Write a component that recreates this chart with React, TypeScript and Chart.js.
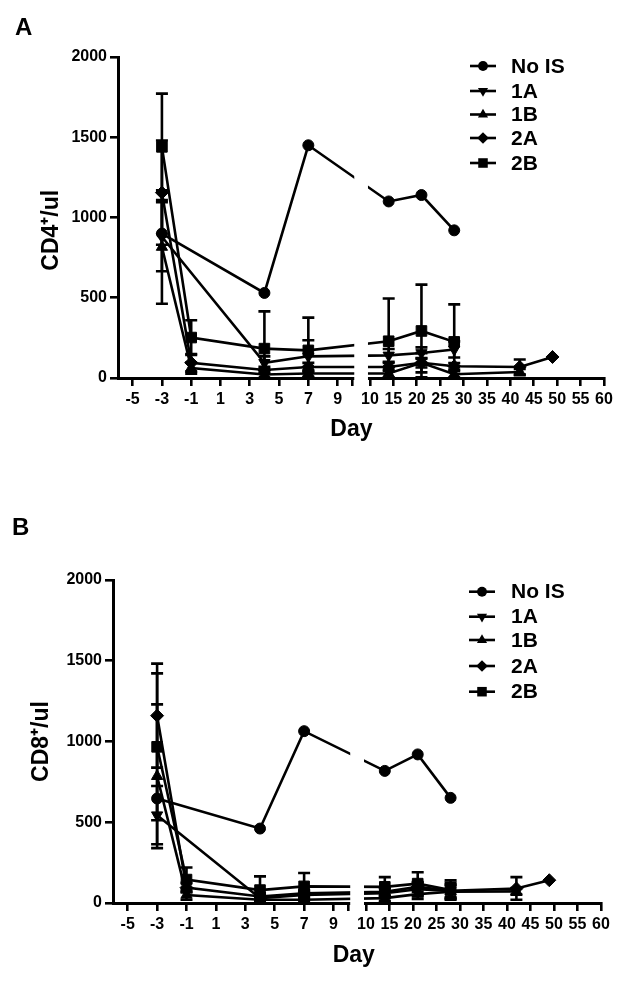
import React, { useEffect, useRef } from "react";
import { Chart, registerables } from "chart.js";

Chart.register(...registerables);

const FONT = "'Liberation Sans', Arial, Helvetica, sans-serif";

// ---------- shared axis data ----------
const DAYS = [-3, -1, 4, 7, 14, 21, 28, 42, 49];
const SERIES_NAMES = ["No IS", "1A", "1B", "2A", "2B"];
const LEFT_TICK_DAYS = [-5, -3, -1, 1, 3, 5, 7, 9];
const RIGHT_TICK_DAYS = [10, 15, 20, 25, 30, 35, 40, 45, 50, 55, 60];
const Y_MIN = 0;
const Y_MAX = 2000;
const Y_STEP = 500;

// ---------- panel A: CD4+/ul (mean) ----------
const CD4_NO_IS = [900, null, 530, 1450, 1100, 1140, 920, null, null];
const CD4_1A = [880, null, 95, 135, 141, 156, 178, null, null];
const CD4_1B = [816, 62, 22, 28, 28, 95, 23, 37, null];
const CD4_2A = [1155, 95, 50, 69, 69, 95, 73, 69, 131];
const CD4_2B = [1440, 252, 183, 172, 229, 293, 225, null, null];
// panel A error (SEM)
const CD4_NO_IS_ERR = [null, null, null, null, null, null, null, null, null];
const CD4_1A_ERR = [215, null, 40, 100, 40, 35, 50, null, null];
const CD4_1B_ERR = [353, 35, 20, 20, 25, 60, 20, 20, null];
const CD4_2A_ERR = [325, 55, 20, 25, 25, 30, 20, 46, null];
const CD4_2B_ERR = [332, 108, 232, 204, 266, 289, 234, null, null];

// ---------- panel B: CD8+/ul (mean) ----------
const CD8_NO_IS = [647, null, 461, 1064, 818, 920, 651, null, null];
const CD8_1A = [544, null, 30, 50, 60, 85, 75, null, null];
const CD8_1B = [785, 50, 20, 20, 30, 55, 70, 72, null];
const CD8_2A = [1160, 95, 40, 60, 70, 100, 75, 90, 141];
const CD8_2B = [967, 145, 80, 103, 100, 120, 80, null, null];
// panel B error (SEM)
const CD8_NO_IS_ERR = [null, null, null, null, null, null, null, null, null];
const CD8_1A_ERR = [180, null, 20, 25, 30, 40, 50, null, null];
const CD8_1B_ERR = [445, 30, 15, 15, 20, 30, 40, 20, null];
const CD8_2A_ERR = [322, 30, 20, 20, 25, 30, 40, 70, null];
const CD8_2B_ERR = [455, 75, 85, 83, 60, 70, 60, null, null];

// ---------- broken x axis mapping ----------
const X_LEFT_MIN = -6;
const BREAK_DAY = 10;
const BREAK_GAP = 1.21; // axis units between the two segments
const RIGHT_RATIO = 0.3197; // axis units per day on the right segment

const rightAxis = (d: number) => BREAK_DAY + BREAK_GAP + (d - BREAK_DAY) * RIGHT_RATIO;
const dayToAxis = (d: number) => (d <= BREAK_DAY ? d : rightAxis(d));
const X_MAX = rightAxis(60);

const X_TICK_VALUES = [...LEFT_TICK_DAYS, BREAK_DAY, ...RIGHT_TICK_DAYS.map(rightAxis)];
const X_TICK_LABELS = [...LEFT_TICK_DAYS.map(String), "", ...RIGHT_TICK_DAYS.map(String)];

const POINT_STYLES = ["circle", "triangle", "triangle", "rectRot", "rect"];
const POINT_ROTATIONS = [0, 180, 0, 0, 0];
const POINT_RADII = [5.5, 6.5, 6.5, 6.5, 7.5];

function drawMarker(ctx: CanvasRenderingContext2D, i: number, x: number, y: number, scale = 1) {
  const r = POINT_RADII[i] * scale;
  const style = POINT_STYLES[i];
  ctx.beginPath();
  if (style === "circle") {
    ctx.arc(x, y, r, 0, Math.PI * 2);
  } else if (style === "triangle") {
    const rot = (POINT_ROTATIONS[i] * Math.PI) / 180;
    let a = rot;
    for (let k = 0; k < 3; k++) {
      const px = x + Math.sin(a) * r;
      const py = y - Math.cos(a) * r;
      if (k === 0) ctx.moveTo(px, py);
      else ctx.lineTo(px, py);
      a += (2 * Math.PI) / 3;
    }
    ctx.closePath();
  } else if (style === "rectRot") {
    ctx.moveTo(x, y - r);
    ctx.lineTo(x + r, y);
    ctx.lineTo(x, y + r);
    ctx.lineTo(x - r, y);
    ctx.closePath();
  } else {
    const s = r * Math.SQRT1_2;
    ctx.rect(x - s, y - s, 2 * s, 2 * s);
  }
  ctx.fill();
}

type PanelCfg = {
  letter: string;
  letterX: number;
  letterY: number;
  yTitle: string;
  yTitlePad: number;
  xTitle: string;
  yWidth: number;
  xHeight: number;
  xTitlePadBottom: number;
  padding: { left: number; right: number; top: number; bottom: number };
  legendX: number;
  legendTextX: number;
  legendRows: number[];
  values: (number | null)[][];
  errors: (number | null)[][];
};

const PANEL_A: PanelCfg = {
  letter: "A",
  letterX: 15,
  letterY: 35,
  yTitle: "CD4\u207A/ul    ",
  yTitlePad: 38,
  xTitle: "Day   ",
  yWidth: 118,
  xHeight: 80,
  xTitlePadBottom: 15,
  padding: { left: 0, right: 25, top: 57, bottom: 35 },
  legendX: 470,
  legendTextX: 511,
  legendRows: [66, 91, 114.5, 138, 163],
  values: [CD4_NO_IS, CD4_1A, CD4_1B, CD4_2A, CD4_2B],
  errors: [CD4_NO_IS_ERR, CD4_1A_ERR, CD4_1B_ERR, CD4_2A_ERR, CD4_2B_ERR],
};

const PANEL_B: PanelCfg = {
  letter: "B",
  letterX: 12,
  letterY: 42,
  yTitle: "CD8\u207A/ul",
  yTitlePad: 28,
  xTitle: "Day ",
  yWidth: 113,
  xHeight: 70,
  xTitlePadBottom: 4,
  padding: { left: 0, right: 28, top: 87, bottom: 13 },
  legendX: 469,
  legendTextX: 511,
  legendRows: [98.7, 123.7, 147, 173, 198.7],
  values: [CD8_NO_IS, CD8_1A, CD8_1B, CD8_2A, CD8_2B],
  errors: [CD8_NO_IS_ERR, CD8_1A_ERR, CD8_1B_ERR, CD8_2A_ERR, CD8_2B_ERR],
};

function Panel({ cfg }: { cfg: PanelCfg }) {
  const ref = useRef<HTMLCanvasElement | null>(null);

  useEffect(() => {
    if (!ref.current) return;

    const datasets = SERIES_NAMES.map((name, i) => {
      const pts: { x: number; y: number }[] = [];
      const errs: number[] = [];
      DAYS.forEach((d, j) => {
        const v = cfg.values[i][j];
        if (v == null) return;
        pts.push({ x: dayToAxis(d), y: v });
        errs.push(cfg.errors[i][j] ?? 0);
      });
      return {
        label: name,
        data: pts,
        errors: errs,
        borderColor: "#000",
        backgroundColor: "#000",
        borderWidth: 2.6,
        pointStyle: POINT_STYLES[i],
        pointRotation: POINT_ROTATIONS[i],
        pointRadius: POINT_RADII[i],
        pointHoverRadius: POINT_RADII[i],
        pointBackgroundColor: "#000",
        pointBorderColor: "#000",
        pointBorderWidth: 1,
        tension: 0,
        fill: false,
        clip: false,
      } as any;
    });

    const errorBars = {
      id: "errorBars",
      beforeDatasetsDraw(chart: any) {
        const ctx = chart.ctx as CanvasRenderingContext2D;
        const ys = chart.scales.y;
        ctx.save();
        ctx.strokeStyle = "#000";
        ctx.lineWidth = 2.6;
        chart.data.datasets.forEach((ds: any, i: number) => {
          const meta = chart.getDatasetMeta(i);
          ds.errors.forEach((e: number, j: number) => {
            if (!e) return;
            const v = ds.data[j].y;
            const px = meta.data[j].x;
            const top = ys.getPixelForValue(v + e);
            const low = v - e;
            const bot = ys.getPixelForValue(Math.max(low, Y_MIN));
            ctx.beginPath();
            ctx.moveTo(px, top);
            ctx.lineTo(px, bot);
            ctx.moveTo(px - 6, top);
            ctx.lineTo(px + 6, top);
            if (low > Y_MIN) {
              ctx.moveTo(px - 6, bot);
              ctx.lineTo(px + 6, bot);
            }
            ctx.stroke();
          });
        });
        ctx.restore();
      },
    };

    const overlay = {
      id: "overlay",
      afterDatasetsDraw(chart: any) {
        const ctx = chart.ctx as CanvasRenderingContext2D;
        const xs = chart.scales.x;
        const a = chart.chartArea;
        ctx.save();
        // axis break
        const x1 = xs.getPixelForValue(BREAK_DAY) + 2;
        const x2 = xs.getPixelForValue(rightAxis(BREAK_DAY)) - 2;
        ctx.fillStyle = "#fff";
        ctx.fillRect(x1, a.top - 12, x2 - x1, a.bottom - a.top + 14);

        // legend
        ctx.fillStyle = "#000";
        ctx.strokeStyle = "#000";
        ctx.lineWidth = 2.6;
        ctx.font = `bold 21px ${FONT}`;
        ctx.textBaseline = "middle";
        ctx.textAlign = "left";
        SERIES_NAMES.forEach((name, i) => {
          const y = cfg.legendRows[i];
          ctx.beginPath();
          ctx.moveTo(cfg.legendX, y);
          ctx.lineTo(cfg.legendX + 26, y);
          ctx.stroke();
          drawMarker(ctx, i, cfg.legendX + 13, y, 0.9);
          ctx.fillText(name, cfg.legendTextX, y + 1);
        });

        // panel letter
        ctx.font = `bold 24px ${FONT}`;
        ctx.textBaseline = "alphabetic";
        ctx.fillText(cfg.letter, cfg.letterX, cfg.letterY);
        ctx.restore();
      },
    };

    const chart = new Chart(ref.current, {
      type: "line",
      data: { datasets },
      options: {
        animation: false,
        responsive: false,
        events: [],
        layout: { padding: cfg.padding },
        plugins: {
          legend: { display: false },
          tooltip: { enabled: false },
          title: { display: false },
        },
        scales: {
          x: {
            type: "linear",
            min: X_LEFT_MIN,
            max: X_MAX,
            afterBuildTicks: (scale: any) => {
              scale.ticks = X_TICK_VALUES.map((v) => ({ value: v }));
            },
            afterFit: (scale: any) => {
              scale.height = cfg.xHeight;
            },
            ticks: {
              autoSkip: false,
              maxRotation: 0,
              minRotation: 0,
              padding: 4,
              color: "#000",
              font: { family: FONT, size: 16, weight: "bold" },
              callback: (_v: any, idx: number) => X_TICK_LABELS[idx] ?? "",
            },
            grid: {
              display: true,
              drawOnChartArea: false,
              drawTicks: true,
              tickLength: 8,
              color: "#000",
              lineWidth: 2.6,
            },
            border: { display: true, color: "#000", width: 3 },
            title: {
              display: true,
              text: cfg.xTitle,
              color: "#000",
              font: { family: FONT, size: 23, weight: "bold" },
              padding: { top: 4, bottom: cfg.xTitlePadBottom },
            },
          },
          y: {
            type: "linear",
            min: Y_MIN,
            max: Y_MAX,
            afterFit: (scale: any) => {
              scale.width = cfg.yWidth;
            },
            ticks: {
              stepSize: Y_STEP,
              padding: 3,
              color: "#000",
              font: { family: FONT, size: 16, weight: "bold" },
              callback: (v: any) => String(v),
            },
            grid: {
              display: true,
              drawOnChartArea: false,
              drawTicks: true,
              tickLength: 8,
              color: "#000",
              lineWidth: 2.6,
            },
            border: { display: true, color: "#000", width: 3 },
            title: {
              display: true,
              text: cfg.yTitle,
              color: "#000",
              font: { family: FONT, size: 23, weight: "bold" },
              padding: { top: cfg.yTitlePad, bottom: 0 },
            },
          },
        },
      } as any,
      plugins: [errorBars, overlay],
    });

    return () => chart.destroy();
  }, [cfg]);

  return <canvas ref={ref} width={629} height={493} style={{ display: "block", width: 629, height: 493 }} />;
}

export default function App() {
  return (
    <div style={{ position: "absolute", left: 0, top: 0, width: 629, height: 986, background: "#fff" }}>
      <Panel cfg={PANEL_A} />
      <Panel cfg={PANEL_B} />
    </div>
  );
}
